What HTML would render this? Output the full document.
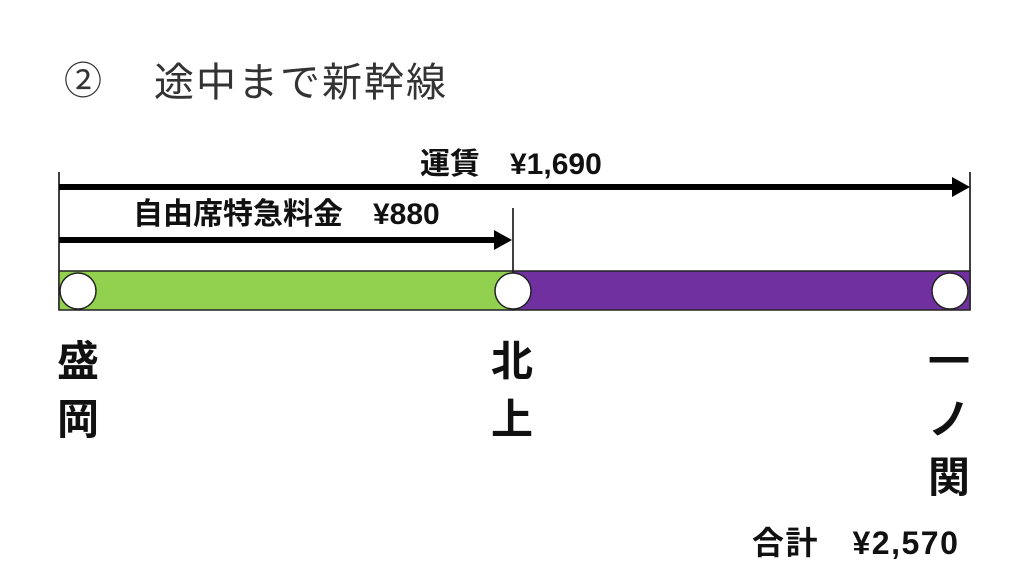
<!DOCTYPE html>
<html><head><meta charset="utf-8"><style>
body{margin:0;width:1024px;height:576px;background:#fff;position:relative;overflow:hidden;font-family:"Liberation Sans","Noto Sans CJK JP",sans-serif;}
.t{position:absolute;white-space:nowrap;line-height:1;}
.b{font-weight:bold;color:#111;}
.v{position:absolute;font-weight:bold;font-size:42px;line-height:58px;width:44px;text-align:center;color:#111;}
</style></head><body>
<div class="t" style="left:64px;top:63px;font-size:38px;color:#333;">②</div>
<div class="t" style="left:154px;top:63px;font-size:40px;color:#333;letter-spacing:2px;">途中まで新幹線</div>
<div class="t b" style="left:420px;top:150px;font-size:30px;">運賃　¥1,690</div>
<div class="t b" style="left:133px;top:200px;font-size:30px;">自由席特急料金　¥880</div>
<svg width="1024" height="576" style="position:absolute;left:0;top:0">
<line x1="59" y1="172" x2="59" y2="310" stroke="#000" stroke-width="1.5"/>
<line x1="970" y1="172" x2="970" y2="310" stroke="#000" stroke-width="1.5"/>
<line x1="513" y1="208" x2="513" y2="271" stroke="#000" stroke-width="1.5"/>
<line x1="59" y1="187" x2="955" y2="187" stroke="#000" stroke-width="6"/>
<polygon points="952,177 970,187 952,197" fill="#000"/>
<line x1="59" y1="240" x2="497" y2="240" stroke="#000" stroke-width="6"/>
<polygon points="494,230 512,240 494,250" fill="#000"/>
<rect x="59" y="271" width="454" height="39" fill="#92d050" stroke="#222" stroke-width="1.5"/>
<rect x="513" y="271" width="457" height="39" fill="#7030a0" stroke="#222" stroke-width="1.5"/>
<circle cx="78" cy="291" r="18" fill="#fff" stroke="#222" stroke-width="1.5"/>
<circle cx="513" cy="291" r="18" fill="#fff" stroke="#222" stroke-width="1.5"/>
<circle cx="950" cy="291" r="18" fill="#fff" stroke="#222" stroke-width="1.5"/>
</svg>
<div class="v" style="left:56px;top:333px;">盛<br>岡</div>
<div class="v" style="left:490px;top:333px;">北<br>上</div>
<div class="v" style="left:927px;top:333px;">一<br>ノ<br>関</div>
<div class="t b" style="left:752px;top:527px;font-size:32px;letter-spacing:1.5px;">合計　¥2,570</div>
</body></html>
